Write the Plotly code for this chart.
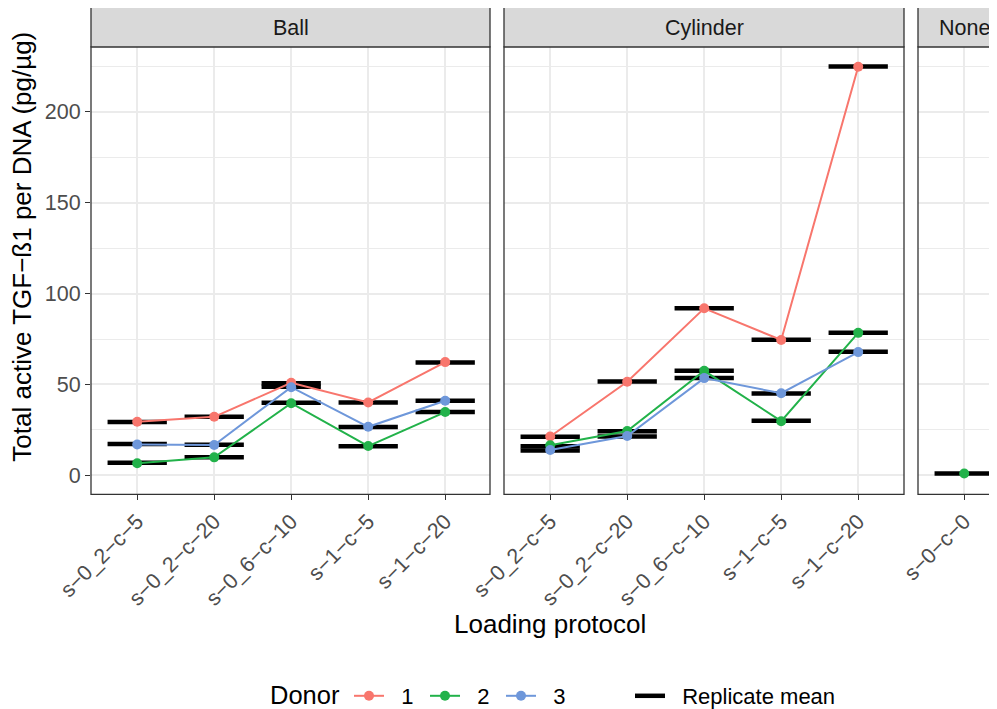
import plotly.graph_objects as go

# ---------------- data ----------------
protocols = ["s-0_2-c-5", "s-0_2-c-20", "s-0_6-c-10", "s-1-c-5", "s-1-c-20"]
none_protocols = ["s-0-c-0"]
facets = ["Ball", "Cylinder", "None"]
donors = ["1", "2", "3"]
donor_colors = ["#F8766D", "#22B24A", "#6E97DA"]

ball_d1 = [29.5, 32.2, 50.9, 40.1, 62.3]
ball_d2 = [6.6, 9.9, 39.7, 16.1, 34.8]
ball_d3 = [17.0, 16.7, 48.5, 26.7, 41.0]
ball_m1 = [29.3, 32.2, 50.7, 40.1, 62.1]
ball_m2 = [6.9, 10.0, 39.9, 16.0, 34.9]
ball_m3 = [17.3, 16.8, 48.7, 26.6, 41.1]

cyl_d1 = [21.4, 51.5, 91.9, 74.5, 224.8]
cyl_d2 = [16.5, 24.4, 57.5, 29.8, 78.4]
cyl_d3 = [13.9, 21.6, 53.5, 45.2, 67.8]
cyl_m1 = [21.2, 51.6, 92.0, 74.6, 225.0]
cyl_m2 = [16.0, 24.2, 57.5, 30.0, 78.4]
cyl_m3 = [13.6, 21.4, 53.5, 45.0, 68.0]

none_d2 = [1.0]
none_m2 = [1.0]

y_ticks = [0, 50, 100, 150, 200]

# ---------------- layout geometry (reference pixel coords) ----------------
W, H = 997, 709
OFF = 8          # page offset of the figure
H_EFF = 701      # effective rendered height


def px(x):
    return (x - OFF) / W


def py(y):
    return 1 - (y - OFF) / H_EFF


unit = 77.0
panel_left = [91, 504, 918]
panel_right = [490, 904, 918 + 1.2 * unit]
panel_top, panel_bottom = 47, 495
strip_top = 7
y0_pix, per_unit = 476, 1.82

ymin = -(panel_bottom - y0_pix) / per_unit
ymax = (y0_pix - panel_top) / per_unit


def minus(s):
    return s.replace("-", "\u2212")


FONT = "Liberation Sans, Arial, sans-serif"
fig = go.Figure()

panels = [
    (protocols, [ball_d1, ball_d2, ball_d3], [ball_m1, ball_m2, ball_m3]),
    (protocols, [cyl_d1, cyl_d2, cyl_d3], [cyl_m1, cyl_m2, cyl_m3]),
    (none_protocols, [None, none_d2, None], [None, none_m2, None]),
]

NB = "\u00a0\u00a0"
half = 0.385
for p, (cats, series, means) in enumerate(panels):
    xa = "x" if p == 0 else f"x{p+1}"
    ya = "y" if p == 0 else f"y{p+1}"
    bx, by = [], []
    for m in means:
        if m is None:
            continue
        for i, v in enumerate(m):
            bx += [i - half, i + half, None]
            by += [v, v, None]
    fig.add_trace(go.Scatter(
        x=bx, y=by, mode="lines", xaxis=xa, yaxis=ya,
        line=dict(color="black", width=4.5),
        name=NB + "Replicate mean", legend="legend2",
        showlegend=(p == 0), hoverinfo="skip"))
    for d, vals in enumerate(series):
        if vals is None:
            continue
        fig.add_trace(go.Scatter(
            x=list(range(len(vals))), y=vals, mode="lines+markers",
            xaxis=xa, yaxis=ya,
            line=dict(color=donor_colors[d], width=2),
            marker=dict(color=donor_colors[d], size=10),
            name=NB + donors[d], legendgroup=donors[d],
            showlegend=(p == 0)))

grid = "#EBEBEB"
tickfont = dict(family=FONT, size=21.5, color="#4D4D4D")

layout = dict(
    width=W, height=H, autosize=False,
    margin=dict(l=0, r=0, t=0, b=0),
    paper_bgcolor="white", plot_bgcolor="white",
    showlegend=True,
    font=dict(family=FONT, color="#1A1A1A"),
)

for p, (cats, _, _) in enumerate(panels):
    n = len(cats)
    x0 = px(panel_left[p])
    x1 = min(1.0, px(panel_right[p]))
    visible_units = (min(panel_right[p], W + OFF) - panel_left[p]) / unit
    xkey = "xaxis" if p == 0 else f"xaxis{p+1}"
    ykey = "yaxis" if p == 0 else f"yaxis{p+1}"
    yanchor = "y" if p == 0 else f"y{p+1}"
    xanchor = "x" if p == 0 else f"x{p+1}"
    layout[xkey] = dict(
        domain=[x0, x1], anchor=yanchor,
        range=[-0.6, -0.6 + visible_units],
        tickmode="array", tickvals=list(range(n)),
        ticktext=[minus(c) for c in cats],
        tickangle=-45, tickfont=tickfont,
        ticks="outside", ticklen=5, tickwidth=1.3, tickcolor="#333333",
        showgrid=True, gridcolor=grid, gridwidth=1.6,
        zeroline=False, showline=False, automargin=False, fixedrange=True,
    )
    layout[ykey] = dict(
        domain=[py(panel_bottom), py(panel_top)], anchor=xanchor,
        range=[ymin, ymax],
        tickmode="array", tickvals=y_ticks,
        ticktext=[str(t) for t in y_ticks],
        showticklabels=(p == 0), tickfont=tickfont,
        ticks="outside" if p == 0 else "", ticklen=5, tickwidth=1.3,
        tickcolor="#333333",
        showgrid=True, gridcolor=grid, gridwidth=1.6,
        minor=dict(tickvals=[25, 75, 125, 175, 225], showgrid=True,
                   gridcolor=grid, gridwidth=0.8),
        zeroline=False, showline=False, automargin=False, fixedrange=True,
    )

shapes = []
annotations = []
for p in range(3):
    x0 = px(panel_left[p])
    x1 = px(panel_right[p])
    shapes.append(dict(type="rect", xref="paper", yref="paper",
                       x0=x0, x1=x1, y0=py(panel_bottom), y1=py(panel_top),
                       line=dict(color="#333333", width=1.3), layer="above"))
    shapes.append(dict(type="rect", xref="paper", yref="paper",
                       x0=x0, x1=x1, y0=py(panel_top), y1=py(strip_top),
                       fillcolor="#D9D9D9",
                       line=dict(color="#333333", width=1.3), layer="above"))
    annotations.append(dict(text=facets[p], xref="paper", yref="paper",
                            x=(x0 + x1) / 2, y=py((strip_top + panel_top) / 2 + 1),
                            showarrow=False, xanchor="center", yanchor="middle",
                            font=dict(family=FONT, size=21.5, color="#1A1A1A")))

annotations.append(dict(text="Loading protocol", xref="paper", yref="paper",
                        x=px(550), y=py(625), showarrow=False,
                        xanchor="center", yanchor="middle",
                        font=dict(family=FONT, size=26, color="black")))
annotations.append(dict(text="Total active TGF\u2212\u00df1 per DNA (pg/\u00b5g)",
                        xref="paper", yref="paper",
                        x=px(22), y=py(247), showarrow=False, textangle=-90,
                        xanchor="center", yanchor="middle",
                        font=dict(family=FONT, size=26, color="black")))
annotations.append(dict(text="Donor", xref="paper", yref="paper",
                        x=px(268), y=py(696), showarrow=False,
                        xanchor="left", yanchor="middle",
                        font=dict(family=FONT, size=25.5, color="black")))

layout["shapes"] = shapes
layout["annotations"] = annotations
layout["legend"] = dict(
    orientation="h", x=px(349), y=py(697), xanchor="left", yanchor="middle",
    font=dict(family=FONT, size=22, color="black"),
    itemwidth=30, entrywidth=31, entrywidthmode="pixels",
    bgcolor="rgba(0,0,0,0)", traceorder="normal",
)
layout["legend2"] = dict(
    orientation="h", x=px(630), y=py(697), xanchor="left", yanchor="middle",
    font=dict(family=FONT, size=22, color="black"), itemwidth=30,
    bgcolor="rgba(0,0,0,0)",
)

fig.update_layout(**layout)
fig.write_html("out.html")
